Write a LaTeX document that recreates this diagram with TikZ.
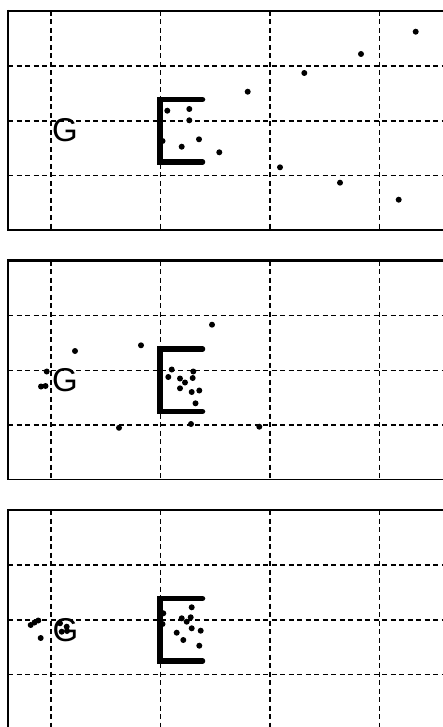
\documentclass[tikz,border=0pt]{standalone}
\usepackage{fontspec}
\setmainfont{Liberation Sans}
\tikzset{
  gridline/.style={line width=1.6pt, dash pattern=on 5pt off 3.5pt},
  border/.style={line width=1.8pt},
  topborder/.style={line width=2.6pt},
  bracketline/.style={line width=5.5pt, line cap=round, line join=miter},
  pt/.style={fill=black},
  glabel/.style={inner sep=0pt, anchor=base, font=\fontsize{33}{33}\selectfont}
}
\newcommand\mypanel[1]{%
  \begin{scope}[shift={(0,#1)}]
    \foreach \gx in {51,160.5,270,379.5} \draw[gridline] (\gx,0) -- (\gx,219);
    \foreach \gy in {55,110,164.5} \draw[gridline] (8,\gy) -- (450,\gy);
    \draw[border] (8,-1) -- (8,219);
    \draw[topborder] (7.2,0) -- (450,0);
    \draw[border] (7.2,219) -- (450,219);
    \draw[bracketline] (202.5,88.5) -- (160,88.5) -- (160,151) -- (202.5,151);
  \end{scope}}
\newcommand\mydots[1]{\foreach \p in {#1} \fill[pt] \p circle (3);}
\begin{document}
\begin{tikzpicture}[x=1pt,y=-1pt]
\useasboundingbox (0,0) rectangle (443,727);
\clip (0,0) rectangle (443,727);
\fill[white] (0,0) rectangle (443,727);
% panel 1
\mypanel{11}
\node[glabel] (g1) at (65,141.5) {G};
\mydots{(415.7,31.7),(361,54),(304.3,73),(247.7,91.7),(167.3,110.7),(189.3,109),(189.3,120.3),(199,139.3),(181.7,146.7),(219.3,152.3),(280,167.3),(340,182.7),(398.7,199.7),(162.5,141)}
% panel 2
\mypanel{260.5}
\node[glabel] (g2) at (65,391) {G};
\mydots{(212,324.7),(141,345.3),(75,351),(46.7,371.5),(41,386.5),(45.5,386),(171.7,369.5),(168.3,377),(180,378.5),(185,382.5),(193.3,371.5),(192.7,378),(180,388.3),(191.7,392),(199.3,390.5),(195.5,403.3),(191,424),(119,427.8),(259.3,426.7)}
% panel 3
\mypanel{510}
\node[glabel] (g3) at (65.5,641) {G};
\mydots{(191.7,607.3),(163.3,613.3),(162.5,624),(181.7,618.3),(186.7,621.7),(190.7,617.3),(191.7,628.3),(176.7,632.7),(200.7,630.7),(183.3,640),(199.3,645.7),(30.7,625),(34.5,622.5),(38.3,620.5),(40.7,638),(60,623.3),(66.7,626.7),(61.7,631.7),(67,631)}
\end{tikzpicture}
\end{document}
